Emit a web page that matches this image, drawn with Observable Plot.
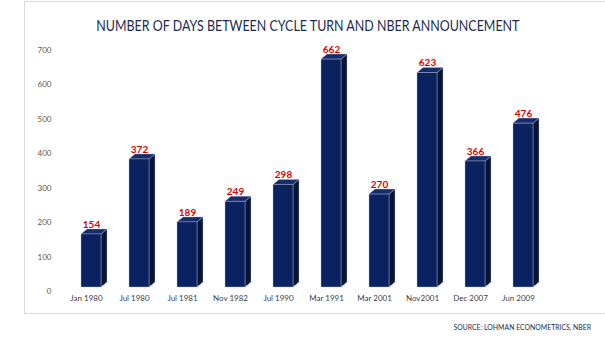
<!DOCTYPE html>
<html>
<head>
<meta charset="utf-8">
<script src="https://cdn.jsdelivr.net/npm/d3@7"></script>
<script src="https://cdn.jsdelivr.net/npm/@observablehq/plot@0.6"></script>
<style>
  html, body { margin: 0; padding: 0; background: #fff; }
  #wrap { position: relative; width: 605px; height: 341px; overflow: hidden; font-family: Lato, "Open Sans", sans-serif; }
  #frame { position: absolute; left: 24px; top: 1px; width: 590px; height: 311px; border: 1px solid #d9d9d9; border-right: none; }
  #title { position: absolute; left: 0; top: 16px; width: 616px; text-align: center; font-size: 15px; line-height: 18px; color: #1c2b52; }
  #title span { display: inline-block; transform: scaleX(0.83); transform-origin: center; white-space: nowrap; }
  #source { position: absolute; right: 14px; top: 321px; font-size: 8px; line-height: 12px; color: #1c2b52; transform: scaleX(0.86); transform-origin: right center; white-space: nowrap; }
  #chart { position: absolute; left: 0; top: 0; }
  #chart svg { overflow: visible; }
</style>
</head>
<body>
<div id="wrap">
  <div id="frame"></div>
  <div id="title"><span>NUMBER OF DAYS BETWEEN CYCLE TURN AND NBER ANNOUNCEMENT</span></div>
  <div id="chart"></div>
  <div id="source">SOURCE: LOHMAN ECONOMETRICS, NBER</div>
</div>
<script>
const categories = ["Jan 1980", "Jul 1980", "Jul 1981", "Nov 1982", "Jul 1990", "Mar 1991", "Mar 2001", "Nov2001", "Dec 2007", "Jun 2009"];
const days = [154, 372, 189, 249, 298, 662, 270, 623, 366, 476];
const yTicks = [0, 100, 200, 300, 400, 500, 600, 700];

const data = categories.map((period, i) => ({period, days: days[i]}));

const depthX = 6, depthY = 5;

function faces(index, scales) {
  const x = scales.x, y = scales.y;
  const bw = typeof x.bandwidth === "function" ? x.bandwidth() : x.bandwidth;
  const g = d3.create("svg:g");
  for (const d of data) {
    const x0 = x(d.period), x1 = x0 + bw, yt = y(d.days), yb = y(0);
    g.append("path")
      .attr("d", `M${x1},${yt}L${x1 + depthX},${yt - depthY}L${x1 + depthX},${yb - depthY}L${x1},${yb}Z`)
      .attr("fill", "#041539")
      .attr("stroke", "#b8bcc8").attr("stroke-width", 0.4);
    g.append("path")
      .attr("d", `M${x0},${yt}L${x0 + depthX},${yt - depthY}L${x1 + depthX},${yt - depthY}L${x1},${yt}Z`)
      .attr("fill", "#162d6b")
      .attr("stroke", "#b8bcc8").attr("stroke-width", 0.4);
  }
  return g.node();
}

const chart = Plot.plot({
  width: 605,
  height: 341,
  marginTop: 46,
  marginBottom: 54,
  marginLeft: 49.3,
  marginRight: 40.3,
  style: {background: "transparent", fontFamily: "Lato, 'Open Sans', sans-serif"},
  x: {domain: categories, padding: 0.589, axis: null},
  y: {domain: [0, 700], axis: null},
  marks: [
    faces,
    Plot.barY(data, {x: "period", y: "days", fill: "#0b2261", stroke: "#b8bcc8", strokeWidth: 0.4}),
    Plot.text(data, {x: "period", y: "days", text: d => String(d.days), dy: -10, fill: "#e00000", fontWeight: "bold", fontSize: 10}),
    Plot.text(data, {x: "period", text: "period", frameAnchor: "bottom", dy: 13, dx: -5, fontSize: 8, fill: "#404040"}),
    Plot.text(yTicks, {y: d => d, text: d => String(d), frameAnchor: "left", textAnchor: "end", dx: 1.7, dy: 4, fontSize: 8, fill: "#595959"})
  ]
});
document.getElementById("chart").appendChild(chart);
</script>
</body>
</html>
